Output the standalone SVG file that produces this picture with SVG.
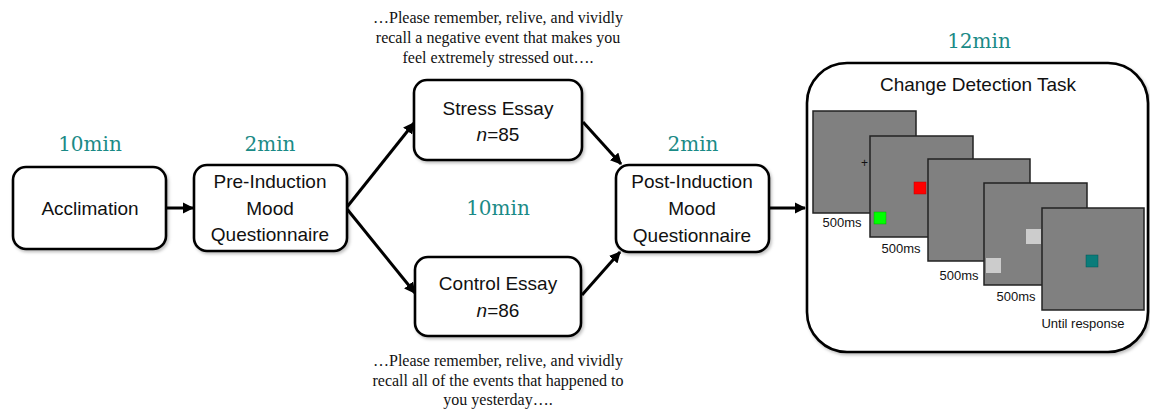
<svg xmlns="http://www.w3.org/2000/svg" width="1150" height="411" viewBox="0 0 1150 411">
<defs>
<style>
.box{fill:#fff;stroke:#000;stroke-width:2.6;filter:url(#sh)}
.lbl{font-family:"Liberation Sans",Arial,sans-serif;font-size:19px;fill:#111;text-anchor:middle}
.time{font-family:"DejaVu Serif",serif;font-size:20px;fill:#1a8a86;text-anchor:middle}
.quote{font-family:"Liberation Serif","Times New Roman",serif;font-size:16px;fill:#111;text-anchor:middle}
.scr{fill:#808080;stroke:#222;stroke-width:1.5}
.ms{font-family:"Liberation Sans",Arial,sans-serif;font-size:13px;fill:#111;text-anchor:middle}
.conn{stroke:#000;stroke-width:3;fill:none;marker-end:url(#ah)}
</style>
<marker id="ah" viewBox="0 0 10 10" refX="9" refY="5" markerWidth="3.8" markerHeight="3.8" orient="auto" markerUnits="strokeWidth">
<path d="M0,0 L10,5 L0,10 z" fill="#000"/>
</marker>
<filter id="sh" x="-10%" y="-10%" width="125%" height="130%">
<feDropShadow dx="1.5" dy="2" stdDeviation="1.5" flood-color="#000" flood-opacity="0.25"/>
</filter>
</defs>
<rect width="1150" height="411" fill="#fff"/>

<g id="connectors">
<line class="conn" x1="166" y1="208" x2="193" y2="208"/>
<line class="conn" x1="347" y1="207" x2="414" y2="123"/>
<line class="conn" x1="347" y1="209" x2="415" y2="293"/>
<line class="conn" x1="583" y1="122" x2="621" y2="164"/>
<line class="conn" x1="582" y1="295" x2="620" y2="252"/>
<line class="conn" x1="769" y1="208" x2="805" y2="208"/>
</g>

<g id="acclimation">
<text class="time" x="90" y="151">10min</text>
<rect class="box" x="13" y="167" width="153" height="82" rx="13"/>
<text class="lbl" x="90" y="215">Acclimation</text>
</g>

<g id="pre-induction">
<text class="time" x="270" y="151">2min</text>
<rect class="box" x="194" y="165" width="153" height="86" rx="13"/>
<text class="lbl" x="270" y="188">Pre-Induction</text>
<text class="lbl" x="270" y="215">Mood</text>
<text class="lbl" x="270" y="241">Questionnaire</text>
</g>

<g id="stress-essay">
<text class="quote" x="498" y="23">…Please remember, relive, and vividly</text>
<text class="quote" x="498" y="43">recall a negative event that makes you</text>
<text class="quote" x="498" y="63">feel extremely stressed out….</text>
<rect class="box" x="414" y="80" width="168" height="80" rx="13"/>
<text class="lbl" x="498" y="115">Stress Essay</text>
<text class="lbl" x="498" y="141"><tspan font-style="italic">n</tspan>=85</text>
</g>

<text class="time" x="498" y="215">10min</text>

<g id="control-essay">
<rect class="box" x="415" y="257" width="166" height="79" rx="13"/>
<text class="lbl" x="498" y="290">Control Essay</text>
<text class="lbl" x="498" y="317"><tspan font-style="italic">n</tspan>=86</text>
<text class="quote" x="498" y="366">…Please remember, relive, and vividly</text>
<text class="quote" x="498" y="386">recall all of the events that happened to</text>
<text class="quote" x="498" y="405">you yesterday….</text>
</g>

<g id="post-induction">
<text class="time" x="693" y="151">2min</text>
<rect class="box" x="616" y="165" width="153" height="87" rx="13"/>
<text class="lbl" x="692" y="188">Post-Induction</text>
<text class="lbl" x="692" y="215">Mood</text>
<text class="lbl" x="692" y="242">Questionnaire</text>
</g>

<g id="change-detection">
<text class="time" x="979" y="48">12min</text>
<rect class="box" x="807" y="63" width="341" height="289" rx="40"/>
<text class="lbl" x="978" y="91" font-size="20">Change Detection Task</text>
<rect class="scr" x="813" y="111" width="103" height="102"/>
<text x="864.5" y="167" font-family="Liberation Sans,Arial,sans-serif" font-size="12" fill="#111" text-anchor="middle">+</text>
<text class="ms" x="842" y="227">500ms</text>
<rect class="scr" x="870" y="136" width="103" height="101"/>
<rect x="914" y="182" width="12" height="12" fill="#ff0000" stroke="#b00" stroke-width="0.5"/>
<rect x="874" y="212" width="12" height="12" fill="#00ff00" stroke="#0a0" stroke-width="0.5"/>
<text class="ms" x="901" y="253">500ms</text>
<rect class="scr" x="928" y="159" width="102" height="102"/>
<text class="ms" x="959" y="280">500ms</text>
<rect class="scr" x="984" y="183" width="103" height="102"/>
<rect x="1026" y="229" width="15" height="15" fill="#cccccc"/>
<rect x="986" y="258" width="15" height="15" fill="#cccccc"/>
<text class="ms" x="1016" y="301">500ms</text>
<rect class="scr" x="1042" y="208" width="102" height="102"/>
<rect x="1086" y="255" width="12" height="12" fill="#0a7c7a" stroke="#055" stroke-width="0.5"/>
<text class="ms" x="1083" y="328">Until response</text>
</g>
</svg>
